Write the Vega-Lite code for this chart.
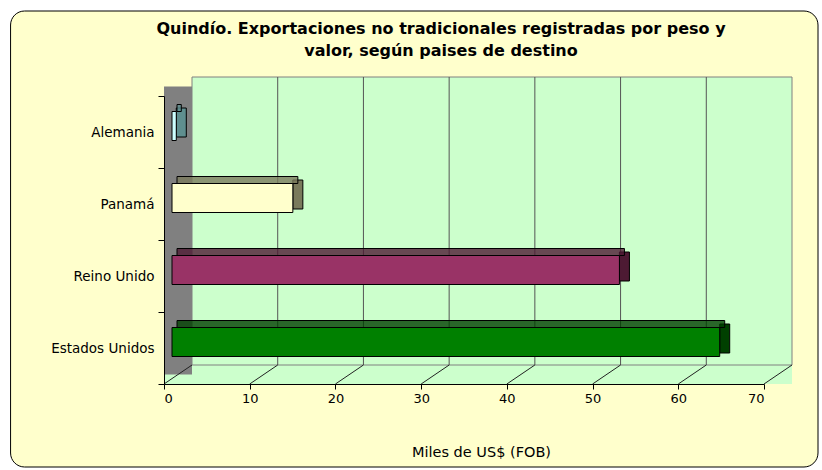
{
  "$schema": "https://vega.github.io/schema/vega-lite/v6.json",
  "width": 600,
  "height": 288,
  "autosize": {"type": "none"},
  "padding": {"left": 164, "top": 96, "right": 58, "bottom": 86},
  "background": "#FFFFFF",
  "config": {"view": {"stroke": null}, "font": "DejaVu Sans"},
  "title": {
    "text": ["Quindío.  Exportaciones no tradicionales registradas por peso y", "valor, según paises de destino"],
    "font": "DejaVu Sans",
    "fontSize": 16,
    "fontWeight": "bold",
    "color": "#000000",
    "anchor": "middle",
    "frame": "group",
    "dx": -23,
    "offset": -48,
    "lineHeight": 22
  },
  "datasets": {
    "paises": [
      {"pais": "Alemania", "valor": 0.5},
      {"pais": "Panamá", "valor": 14.1},
      {"pais": "Reino Unido", "valor": 52.2},
      {"pais": "Estados Unidos", "valor": 63.9}
    ],
    "escala": [
      {"v": 0}, {"v": 10}, {"v": 20}, {"v": 30}, {"v": 40}, {"v": 50}, {"v": 60}, {"v": 70}
    ],
    "fondo": [{"parte": "marco"}]
  },
  "layer": [
    {
      "data": {"name": "fondo"},
      "mark": {"type": "rect", "fill": "#FFFFCC", "stroke": "#000000", "strokeWidth": 1, "cornerRadius": 14, "yOffset": -85, "y2Offset": 83},
      "encoding": {
        "x": {"datum": -17.9, "type": "quantitative", "scale": {"domain": [0, 70], "nice": false, "zero": false}},
        "x2": {"datum": 76.3},
        "y": {"datum": "Alemania", "type": "nominal", "bandPosition": 0},
        "y2": {"datum": "Estados Unidos", "bandPosition": 1}
      }
    },
    {
      "data": {"name": "fondo"},
      "mark": {"type": "rect", "fill": "#CCFFCC", "x2Offset": 28, "y2Offset": -19},
      "encoding": {
        "x": {"datum": 0, "type": "quantitative"},
        "x2": {"datum": 70},
        "y": {"datum": "Estados Unidos", "type": "nominal", "bandPosition": 1},
        "y2": {"datum": "Estados Unidos", "bandPosition": 1}
      }
    },
    {
      "data": {"name": "fondo"},
      "mark": {"type": "rect", "fill": "#808080", "x2Offset": 28, "yOffset": -9.5, "y2Offset": -9.5},
      "encoding": {
        "x": {"datum": 0, "type": "quantitative"},
        "x2": {"datum": 0},
        "y": {"datum": "Alemania", "type": "nominal", "bandPosition": 0},
        "y2": {"datum": "Estados Unidos", "bandPosition": 1}
      }
    },
    {
      "data": {"name": "fondo"},
      "mark": {"type": "rect", "fill": "#CCFFCC", "stroke": "#808080", "strokeWidth": 1, "xOffset": 28, "x2Offset": 28, "yOffset": -19, "y2Offset": -19},
      "encoding": {
        "x": {"datum": 0, "type": "quantitative"},
        "x2": {"datum": 70},
        "y": {"datum": "Alemania", "type": "nominal", "bandPosition": 0},
        "y2": {"datum": "Estados Unidos", "bandPosition": 1}
      }
    },
    {
      "data": {"name": "escala"},
      "transform": [{"filter": "datum.v > 0 && datum.v < 70"}],
      "mark": {"type": "rule", "color": "#555555", "strokeWidth": 1, "xOffset": 28, "yOffset": -19, "y2Offset": -19},
      "encoding": {
        "x": {"field": "v", "type": "quantitative"},
        "y": {"datum": "Alemania", "type": "nominal", "bandPosition": 0},
        "y2": {"datum": "Estados Unidos", "bandPosition": 1}
      }
    },
    {
      "data": {"name": "escala"},
      "mark": {"type": "rule", "color": "#222222", "strokeWidth": 1, "x2Offset": 28, "y2Offset": -19},
      "encoding": {
        "x": {"field": "v", "type": "quantitative"},
        "x2": {"field": "v"},
        "y": {"datum": "Estados Unidos", "type": "nominal", "bandPosition": 1},
        "y2": {"datum": "Estados Unidos", "bandPosition": 1}
      }
    },
    {
      "data": {"name": "paises"},
      "mark": {"type": "bar", "size": 29, "stroke": "#000000", "strokeWidth": 1, "xOffset": 8, "x2Offset": 18, "yOffset": -9.5},
      "encoding": {
        "x": {"field": "valor", "type": "quantitative"},
        "x2": {"field": "valor"},
        "y": {"field": "pais", "type": "nominal", "scale": {"type": "band", "domain": ["Alemania", "Panamá", "Reino Unido", "Estados Unidos"], "paddingInner": 0, "paddingOuter": 0}},
        "fill": {"field": "pais", "type": "nominal", "legend": null, "scale": {"domain": ["Alemania", "Panamá", "Reino Unido", "Estados Unidos"], "range": ["#5F8F8F", "#7A7A5C", "#4D1A33", "#004000"]}}
      }
    },
    {
      "data": {"name": "paises"},
      "mark": {"type": "bar", "size": 7, "stroke": "#000000", "strokeWidth": 1, "fillOpacity": 0.8, "xOffset": 13, "x2Offset": 13, "yOffset": -24},
      "encoding": {
        "x": {"field": "valor", "type": "quantitative"},
        "y": {"field": "pais", "type": "nominal"},
        "fill": {"field": "pais", "type": "nominal", "legend": null}
      }
    },
    {
      "data": {"name": "paises"},
      "mark": {"type": "bar", "size": 29, "stroke": "#000000", "strokeWidth": 1, "xOffset": 8, "x2Offset": 8, "yOffset": -6},
      "encoding": {
        "x": {
          "field": "valor",
          "type": "quantitative",
          "axis": {
            "title": "Miles de US$ (FOB)",
            "values": [0, 10, 20, 30, 40, 50, 60, 70],
            "grid": false,
            "zindex": 1,
            "domainColor": "#000000",
            "tickColor": "#000000",
            "tickSize": 5,
            "labelFont": "DejaVu Sans",
            "labelFontSize": 13,
            "labelColor": "#000000",
            "labelPadding": 3,
            "titleFont": "DejaVu Sans",
            "titleFontSize": 14.5,
            "titleFontWeight": "normal",
            "titleColor": "#000000",
            "titleX": 317,
            "titlePadding": 40
          }
        },
        "y": {
          "field": "pais",
          "type": "nominal",
          "axis": {
            "title": null,
            "tickBand": "extent",
            "zindex": 1,
            "domainColor": "#000000",
            "tickColor": "#000000",
            "tickSize": 6,
            "labelFont": "DejaVu Sans",
            "labelFontSize": 13.5,
            "labelColor": "#000000",
            "labelPadding": 4
          }
        },
        "color": {"field": "pais", "type": "nominal", "legend": null, "scale": {"domain": ["Alemania", "Panamá", "Reino Unido", "Estados Unidos"], "range": ["#CCFFFF", "#FFFFCC", "#993366", "#008000"]}}
      }
    }
  ]
}
